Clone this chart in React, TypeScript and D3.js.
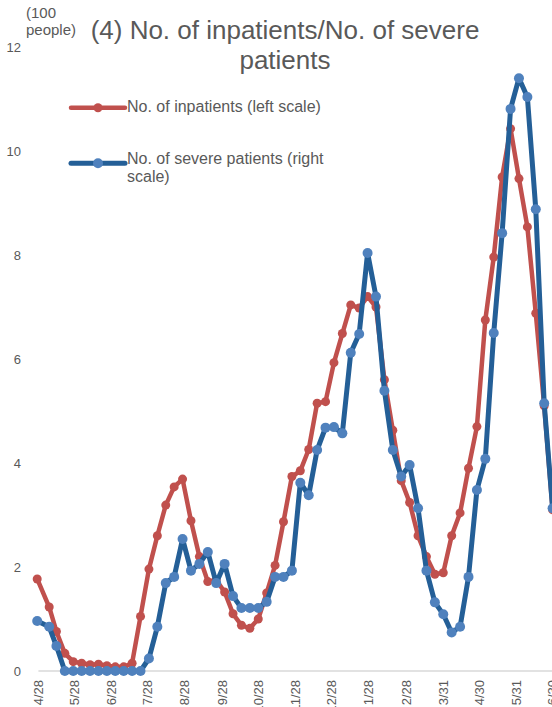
import React from "react";
import * as d3 from "d3";

const weekDates = [
  "2020-04-27", "2020-05-07", "2020-05-13", "2020-05-20", "2020-05-27", "2020-06-03", "2020-06-10",
  "2020-06-17", "2020-06-24", "2020-07-01", "2020-07-08", "2020-07-15", "2020-07-22", "2020-07-29",
  "2020-08-05", "2020-08-12", "2020-08-19", "2020-08-26", "2020-09-02", "2020-09-09", "2020-09-16",
  "2020-09-23", "2020-09-30", "2020-10-07", "2020-10-14", "2020-10-21", "2020-10-28", "2020-11-04",
  "2020-11-11", "2020-11-18", "2020-11-25", "2020-12-02", "2020-12-09", "2020-12-16", "2020-12-23",
  "2020-12-30", "2021-01-06", "2021-01-13", "2021-01-20", "2021-01-27", "2021-02-03", "2021-02-10",
  "2021-02-17", "2021-02-24", "2021-03-03", "2021-03-10", "2021-03-17", "2021-03-24", "2021-03-31",
  "2021-04-07", "2021-04-14", "2021-04-21", "2021-04-28", "2021-05-05", "2021-05-12", "2021-05-19",
  "2021-05-26", "2021-06-02", "2021-06-09", "2021-06-16", "2021-06-23", "2021-06-30",
];

const inpatients = [
  1.77, 1.23, 0.76, 0.34, 0.18, 0.15, 0.12, 0.13, 0.1, 0.08, 0.08, 0.15,
  1.05, 1.96, 2.6, 3.19, 3.54, 3.69, 2.89, 2.2, 1.72, 1.75,
  1.52, 1.1, 0.88, 0.82, 1.0, 1.5, 2.03, 2.87, 3.74, 3.85,
  4.26, 5.15, 5.18, 5.93, 6.49, 7.04, 6.98, 7.2, 7.0, 5.6,
  4.63, 3.66, 3.24, 2.6, 2.2, 1.86, 1.89, 2.6, 3.04, 3.9,
  4.7, 6.75, 7.96, 9.5, 10.43, 9.47, 8.54, 6.88, 5.1, 3.1,
];

const severe = [
  0.96, 0.85, 0.48, 0, 0, 0, 0, 0, 0, 0, 0, 0, 0,
  0.24, 0.85, 1.69, 1.81, 2.54, 1.93, 2.06, 2.29, 1.69, 2.06,
  1.44, 1.21, 1.21, 1.21, 1.33, 1.81, 1.81, 1.93, 3.62, 3.38,
  4.25, 4.68, 4.69, 4.57, 6.12, 6.48, 8.04, 7.2, 5.39, 4.25,
  3.74, 3.96, 3.13, 1.93, 1.32, 1.09, 0.74, 0.85, 1.81, 3.48,
  4.08, 6.5, 8.42, 10.81, 11.4, 11.04, 8.88, 5.15, 3.13,
];

const tickDates = [
  "2020-04-28", "2020-05-28", "2020-06-28", "2020-07-28", "2020-08-28", "2020-09-28",
  "2020-10-28", "2020-11-28", "2020-12-28", "2021-01-28", "2021-02-28", "2021-03-31",
  "2021-04-30", "2021-05-31", "2021-06-30",
];
const tickLabels = [
  "4/28", "5/28", "6/28", "7/28", "8/28", "9/28", "10/28", "11/28", "12/28",
  "1/28", "2/28", "3/31", "4/30", "5/31", "6/30",
];
const yTicks = [0, 2, 4, 6, 8, 10, 12];

const titleLines = ["(4) No. of inpatients/No. of severe", "patients"];
const unitLines = ["(100", "people)"];
const legendInpatients = ["No. of inpatients (left scale)"];
const legendSevere = ["No. of severe patients (right", "scale)"];

const W = 552;
const H = 707;
const RED = "#C0504D";
const BLUE_LINE = "#245F97";
const BLUE_MARK = "#4F81BD";
const TEXT = "#595959";
const FONT = "'Liberation Sans', Arial, sans-serif";

const parse = (s: string) => {
  const [y, m, d] = s.split("-").map(Number);
  return new Date(Date.UTC(y, m - 1, d));
};

export default function App() {
  const x = d3
    .scaleUtc()
    .domain([parse("2020-04-28"), parse("2021-06-30")])
    .range([38.4, 552.6]);
  const yLeft = d3.scaleLinear().domain([0, 12]).range([671, 47]);
  const yRight = d3.scaleLinear().domain([0, 12]).range([671, 47]);

  const dates = weekDates.map(parse);
  const redPts = dates.map((d, i) => [x(d), yLeft(inpatients[i])] as [number, number]);
  const bluePts = dates.map((d, i) => [x(d), yRight(severe[i])] as [number, number]);
  const line = d3.line<[number, number]>();

  return (
    <svg
      width={W}
      height={H}
      style={{ position: "absolute", left: 0, top: 0, background: "#fff" }}
      fontFamily={FONT}
    >
      <rect width={W} height={H} fill="#fff" />
      {/* baseline */}
      <line x1={x(parse("2020-04-28"))} x2={W + 10} y1={yLeft(0)} y2={yLeft(0)} stroke="#D9D9D9" strokeWidth={1.5} />

      {/* y tick labels */}
      {yTicks.map((t) => (
        <text key={t} x={21} y={yLeft(t)} textAnchor="end" dominantBaseline="central" fontSize={13} fill={TEXT}>
          {t}
        </text>
      ))}

      {/* x tick labels */}
      {tickDates.map((d, i) => (
        <text
          key={d}
          transform={`translate(${x(parse(d))},680) rotate(-90)`}
          textAnchor="end"
          dominantBaseline="central"
          fontSize={13}
          fill={TEXT}
        >
          {tickLabels[i]}
        </text>
      ))}

      {/* unit */}
      {unitLines.map((s, i) => (
        <text key={s} x={26} y={17.5 + i * 17} fontSize={15} fill={TEXT}>
          {s}
        </text>
      ))}

      {/* title */}
      {titleLines.map((s, i) => (
        <text key={s} x={285} y={39 + i * 29.5} textAnchor="middle" fontSize={26} fill={TEXT}>
          {s}
        </text>
      ))}

      {/* series */}
      <path d={line(redPts) || ""} fill="none" stroke={RED} strokeWidth={4.5} strokeLinejoin="round" />
      {redPts.map((p, i) => (
        <circle key={"r" + i} cx={p[0]} cy={p[1]} r={4.5} fill={RED} />
      ))}
      <path d={line(bluePts) || ""} fill="none" stroke={BLUE_LINE} strokeWidth={5} strokeLinejoin="round" />
      {bluePts.map((p, i) => (
        <circle key={"b" + i} cx={p[0]} cy={p[1]} r={5} fill={BLUE_MARK} />
      ))}

      {/* legend */}
      <line x1={71} x2={125} y1={107.7} y2={107.7} stroke={RED} strokeWidth={4.5} strokeLinecap="round" />
      <circle cx={98} cy={107.7} r={4.5} fill={RED} />
      {legendInpatients.map((s, i) => (
        <text key={s} x={127} y={112 + i * 17.5} fontSize={16} fill={TEXT}>
          {s}
        </text>
      ))}
      <line x1={71} x2={125} y1={163.3} y2={163.3} stroke={BLUE_LINE} strokeWidth={5} strokeLinecap="round" />
      <circle cx={98} cy={163.3} r={5} fill={BLUE_MARK} />
      {legendSevere.map((s, i) => (
        <text key={s} x={127} y={164 + i * 17.5} fontSize={16} fill={TEXT}>
          {s}
        </text>
      ))}
    </svg>
  );
}
